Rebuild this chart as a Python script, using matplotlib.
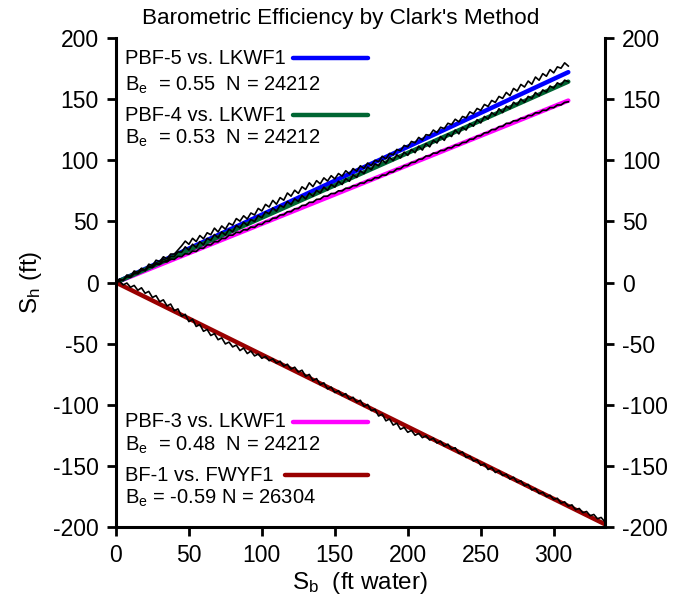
import matplotlib.pyplot as plt
import numpy as np

plt.rcParams['font.family'] = ['Liberation Sans', 'DejaVu Sans']
plt.rcParams['mathtext.default'] = 'regular'
plt.rcParams['axes.unicode_minus'] = False

# fitted barometric efficiencies
be_pbf5 = 0.555
be_pbf4 = 0.53
be_pbf3 = 0.48
be_bf1 = -0.59

# S_b sample positions (ft water)
sb_lk = np.arange(0, 310.01, 2.5)
sb_fw = np.arange(0, 335.01, 2.5)

# black data curves, read as deviation from each fitted line (ft)
dev_pbf5 = [0, 1.5, -1, 2, -0.5, 2.5, 0, 2, -1, 2.5,
            0, 3, 0.5, 3, 0, 2.5, 1, 3, 5, 7.5,
            3.5, 7, 3, 6.5, 2.5, 6, 3, 7, 2.5, 6,
            2, 5.5, 2.5, 6.5, 3, 6, 2, 5.5, 2.5, 6.5,
            3, 7, 3.5, 7.5, 3, 7, 3.5, 8, 4, 7.5,
            3.5, 7.5, 4, 8, 3.5, 7, 3, 6.5, 2.5, 5.5,
            1.5, 4.5, 1, 4, 0, 3, -0.5, 2.5, -1, 2,
            -1.5, 1.5, -1, 2, -1.5, 1.5, -1, 2, -0.5, 2.5,
            0, 3, 0.5, 3.5, 0, 3, 1, 4, 0.5, 3.5,
            1, 4, 1.5, 4.5, 1, 4, 1.5, 5, 2, 5,
            2, 5.5, 2.5, 6, 3, 6.5, 3.5, 7, 3, 7.5,
            4, 8, 4.5, 8, 4, 8.5, 4.5, 8.5, 5, 9,
            5, 8.5, 6, 9, 5]
dev_pbf4 = [0, 1, -1, 1.5, -1, 1.5, -0.5, 2, -1, 1.5,
            -1, 1.5, -0.5, 2, -1, 1.5, 0, 2.5, 1, 4,
            0, 3.5, -0.5, 3, -1, 3, 0, 3.5, -0.5, 3,
            -1, 2.5, -1, 3, -0.5, 3, -1, 2.5, -0.5, 3,
            0, 3.5, 0.5, 4, 0, 3.5, 0.5, 4, 0, 3.5,
            0, 3.5, -0.5, 3, -1, 2.5, -1, 2.5, -1.5, 2,
            -1.5, 2, -2, 1.5, -2, 2, -1.5, 2.5, -1, 3,
            -0.5, 3, 0, 3.5, -0.5, 3, -1, 2.5, -1.5, 2,
            -2, 1.5, -2.5, 1.5, -3, 1, -3, 1, -2.5, 1.5,
            -3, 1, -2.5, 1.5, -3, 1, -2.5, 1.5, -2, 2,
            -2, 2, -1.5, 2.5, -1, 3, -1.5, 2.5, -1, 3,
            -0.5, 3, -1, 2.5, -0.5, 3, -1, 2.5, -0.5, 3,
            0, 3, 0, 2.5, 0]
dev_pbf3 = [0, 0.8, -0.5, 1, -0.5, 1.2, 0, 1.5, 0.3, 1.8,
            0.5, 1.8, 0.3, 1.5, 0, 1.2, -0.3, 1, -0.5, 0.8,
            -0.8, 0.5, -1, 0.5, -0.8, 0.8, -0.5, 1, -0.3, 1.2,
            0, 1.5, 0.3, 1.5, 0, 1.2, -0.2, 1, -0.5, 0.8,
            -0.5, 0.8, -0.3, 1, 0, 1.2, 0.2, 1.5, 0.3, 1.5,
            0.5, 1.8, 0.8, 2, 0.8, 2, 1, 2.2, 1, 2,
            0.8, 1.8, 0.5, 1.5, 0.3, 1.2, 0, 1, -0.3, 0.8,
            -0.5, 0.5, -0.8, 0.3, -1, 0.3, -0.8, 0.5, -0.5, 0.8,
            -0.3, 1, 0, 1.2, 0.2, 1.5, 0.3, 1.5, 0.2, 1.2,
            0, 1, -0.3, 0.8, -0.5, 0.5, -0.5, 0.8, -0.3, 1,
            0, 1.2, 0.2, 1.5, 0.3, 1.5, 0.5, 1.8, 0.5, 1.5,
            0.3, 1.2, 0, 1, -0.3, 0.8, -0.5, 0.5, -0.8, 0.3,
            -1, 0, -1.2, -0.3, -1]
dev_bf1 = [0, 2.5, 1, 4, 2, 5, 2.5, 6, 3, 6,
           2.5, 5.5, 2, 5, 1.5, 4.5, 0.5, 3.5, -1, 2,
           -2.5, 1, -3.5, -0.5, -4.5, -1.5, -5, -2, -5.5, -2.5,
           -6, -3, -5.5, -2.5, -5.5, -2, -5, -1.5, -4, -1,
           -3, 0, -2, 1, -1, 2, -0.5, 2.5, 0, 3,
           0.5, 3.5, 0, 3, -0.5, 2.5, -1, 2, -1.5, 1.5,
           -1.5, 1.5, -1, 2, -1, 2, -0.5, 2.5, -1, 2,
           -1.5, 1, -3, 0, -4, -1, -4.5, -1.5, -5, -2,
           -4.5, -1.5, -4, -1, -3, 0, -2, 1, -1.5, 1.5,
           -1, 2, -0.5, 2, -1, 1.5, -1.5, 1, -1.5, 1,
           -2, 0.5, -2.5, 0.5, -2, 1, -1.5, 1, -1.5, 1.5,
           -1, 1.5, -1, 1.5, -1.5, 1, -1.5, 1, -1, 1.5,
           -0.5, 2, -0.5, 2, 0, 2.5, 0, 2.5, 0.5, 3,
           1, 3.5, 1.5, 4, 2]

fig = plt.figure(figsize=(6.78, 6.03), dpi=100)
ax = fig.add_axes([0.171, 0.126, 0.721, 0.811])

fit_lk = np.array([0, 310])
fit_fw = np.array([0, 335])
ax.plot(fit_lk, be_pbf3 * fit_lk, color="#FF00FF", lw=3.2, solid_capstyle="round")
ax.plot(fit_lk, be_pbf5 * fit_lk, color="#0000FF", lw=3.2, solid_capstyle="round")
ax.plot(fit_lk, be_pbf4 * fit_lk, color="#006633", lw=3.2, solid_capstyle="round")
ax.plot(fit_fw, be_bf1 * fit_fw, color="#990000", lw=3.2, solid_capstyle="round")

ax.plot(sb_lk, be_pbf5 * sb_lk + np.array(dev_pbf5), color="black", lw=1.2)
ax.plot(sb_lk, be_pbf4 * sb_lk + np.array(dev_pbf4), color="black", lw=1.2)
ax.plot(sb_lk, be_pbf3 * sb_lk + np.array(dev_pbf3), color="black", lw=1.2)
ax.plot(sb_fw, be_bf1 * sb_fw + np.array(dev_bf1), color="black", lw=1.2)

# legend-like labels
fs = 14.5
labels = [("PBF-5 vs. LKWF1", "B$_e$  = 0.55  N = 24212", 183.5, 161.5, "#0000FF", 121),
          ("PBF-4 vs. LKWF1", "B$_e$  = 0.53  N = 24212", 137, 118, "#006633", 121),
          ("PBF-3 vs. LKWF1", "B$_e$  = 0.48  N = 24212", -114, -133.5, "#FF00FF", 121),
          ("BF-1 vs. FWYF1", "B$_e$ = -0.59 N = 26304", -157.5, -176.5, "#990000", 116)]
for name, stat, y1, y2, col, x0 in labels:
    ax.text(6.0, y1, name, fontsize=fs, va="center", ha="left")
    ax.text(6.0, y2, stat, fontsize=fs, va="center", ha="left")
    ax.plot([x0, 172.5], [y1, y1], color=col, lw=3.2, solid_capstyle="round")

ax.set_xlim(0, 335)
ax.set_ylim(-200, 200)
ax.set_xticks(np.arange(0, 301, 50))
ax.set_yticks(np.arange(-200, 201, 50))
ax.spines["top"].set_visible(False)
for s in ["left", "right", "bottom"]:
    ax.spines[s].set_linewidth(2.2)
ax.tick_params(direction="out", length=6.5, width=2, labelsize=16.5,
               right=True, labelright=True, pad=6)

ax.set_xlabel("S$_b$  (ft water)", fontsize=17.5, labelpad=2)
ax.set_ylabel("S$_h$ (ft)", fontsize=17.5, labelpad=6)
fig.text(0.502, 0.97, "Barometric Efficiency by Clark's Method", fontsize=16.2,
         ha="center", va="center")

plt.savefig("out.png", dpi=100)
